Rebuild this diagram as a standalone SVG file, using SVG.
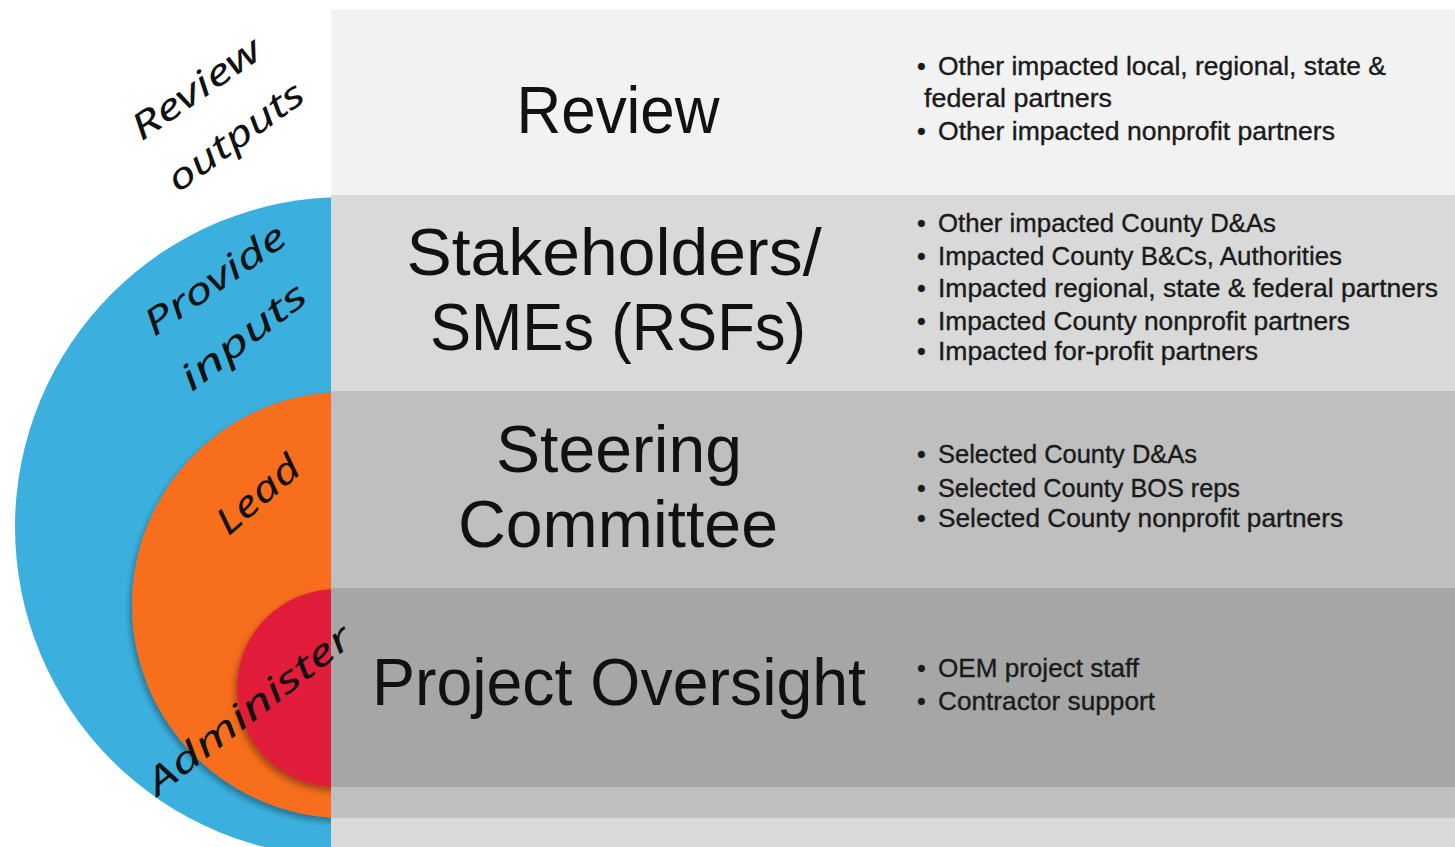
<svg xmlns="http://www.w3.org/2000/svg" width="1455" height="847" viewBox="0 0 1455 847">
<style>
.title{font-family:"Liberation Sans",Arial,sans-serif;font-size:66px;fill:#111;text-anchor:middle}
.item{font-family:"Liberation Sans",Arial,sans-serif;font-size:25px;fill:#1a1a1a;stroke:#1a1a1a;stroke-width:0.35px}
.hand{font-family:"Noto Sans","DejaVu Sans",sans-serif;font-style:italic;font-size:36px;fill:#111;text-anchor:middle}
</style>
<defs>
<filter id="sh" x="-20%" y="-20%" width="140%" height="140%">
<feDropShadow dx="-2" dy="4" stdDeviation="3" flood-color="#000" flood-opacity="0.35"/>
</filter>
</defs>
<rect width="1455" height="847" fill="#ffffff"/>
<g id="rings">
<circle id="ring-blue" cx="345" cy="527" r="330" fill="#3bb0df"/>
<circle id="ring-orange" cx="345" cy="605" r="213" fill="#f76e1c" filter="url(#sh)"/>
<circle id="ring-red" cx="336" cy="688" r="99" fill="#e21b3a" filter="url(#sh)"/>
</g>
<g id="bands">
<rect id="band-review" x="331" y="9" width="1124" height="186" fill="#f2f2f2"/>
<rect id="band-stake" x="331" y="195" width="1124" height="196" fill="#d9d9d9"/>
<rect id="band-steer" x="331" y="391" width="1124" height="197" fill="#bfbfbf"/>
<rect id="band-oversight" x="331" y="588" width="1124" height="199" fill="#a6a6a6"/>
<rect x="331" y="787" width="1124" height="31" fill="#bfbfbf"/>
<rect x="331" y="818" width="1124" height="29" fill="#d9d9d9"/>
</g>
<g id="titles">
<text class="title" x="618" y="133" textLength="203" lengthAdjust="spacingAndGlyphs">Review</text>
<text class="title" x="614" y="275" textLength="415" lengthAdjust="spacingAndGlyphs">Stakeholders/</text>
<text class="title" x="618" y="350" textLength="376" lengthAdjust="spacingAndGlyphs">SMEs (RSFs)</text>
<text class="title" x="619" y="472" textLength="246" lengthAdjust="spacingAndGlyphs">Steering</text>
<text class="title" x="618" y="547" textLength="320" lengthAdjust="spacingAndGlyphs">Committee</text>
<text class="title" x="619" y="705" textLength="494" lengthAdjust="spacingAndGlyphs">Project Oversight</text>
</g>
<g id="lists">
<g id="list-review">
<text class="item" x="917" y="75">•</text>
<text class="item" x="938" y="75" textLength="448" lengthAdjust="spacingAndGlyphs">Other impacted local, regional, state &amp;</text>
<text class="item" x="924" y="107" textLength="188" lengthAdjust="spacingAndGlyphs">federal partners</text>
<text class="item" x="917" y="140">•</text>
<text class="item" x="938" y="140" textLength="397" lengthAdjust="spacingAndGlyphs">Other impacted nonprofit partners</text>
</g>
<g id="list-stake">
<text class="item" x="917" y="232">•</text>
<text class="item" x="938" y="232" textLength="338" lengthAdjust="spacingAndGlyphs">Other impacted County D&amp;As</text>
<text class="item" x="917" y="265">•</text>
<text class="item" x="938" y="265" textLength="404" lengthAdjust="spacingAndGlyphs">Impacted County B&amp;Cs, Authorities</text>
<text class="item" x="917" y="297">•</text>
<text class="item" x="938" y="297" textLength="500" lengthAdjust="spacingAndGlyphs">Impacted regional, state &amp; federal partners</text>
<text class="item" x="917" y="330">•</text>
<text class="item" x="938" y="330" textLength="412" lengthAdjust="spacingAndGlyphs">Impacted County nonprofit partners</text>
<text class="item" x="917" y="360">•</text>
<text class="item" x="938" y="360" textLength="320" lengthAdjust="spacingAndGlyphs">Impacted for-profit partners</text>
</g>
<g id="list-steer">
<text class="item" x="917" y="463">•</text>
<text class="item" x="938" y="463" textLength="259" lengthAdjust="spacingAndGlyphs">Selected County D&amp;As</text>
<text class="item" x="917" y="497">•</text>
<text class="item" x="938" y="497" textLength="302" lengthAdjust="spacingAndGlyphs">Selected County BOS reps</text>
<text class="item" x="917" y="527">•</text>
<text class="item" x="938" y="527" textLength="405" lengthAdjust="spacingAndGlyphs">Selected County nonprofit partners</text>
</g>
<g id="list-oversight">
<text class="item" x="917" y="677">•</text>
<text class="item" x="938" y="677" textLength="201" lengthAdjust="spacingAndGlyphs">OEM project staff</text>
<text class="item" x="917" y="710">•</text>
<text class="item" x="938" y="710" textLength="217" lengthAdjust="spacingAndGlyphs">Contractor support</text>
</g>
</g>
<g id="ring-labels">
<text class="hand" transform="translate(196,89) rotate(-35)" y="12" textLength="150" lengthAdjust="spacingAndGlyphs">Review</text>
<text class="hand" transform="translate(238,140) rotate(-36)" y="8" textLength="160" lengthAdjust="spacingAndGlyphs">outputs</text>
<text class="hand" transform="translate(215,280) rotate(-35)" y="12" textLength="165" lengthAdjust="spacingAndGlyphs">Provide</text>
<text class="hand" transform="translate(246,340) rotate(-38)" y="8" textLength="150" lengthAdjust="spacingAndGlyphs">inputs</text>
<text class="hand" transform="translate(258,495) rotate(-41)" y="12" textLength="100" lengthAdjust="spacingAndGlyphs">Lead</text>
<text class="hand" transform="translate(249,710) rotate(-38)" y="12" textLength="250" lengthAdjust="spacingAndGlyphs">Administer</text>
</g>
</svg>
